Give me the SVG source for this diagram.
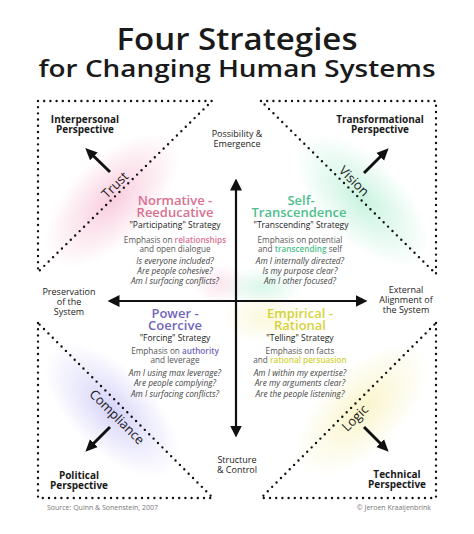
<svg xmlns="http://www.w3.org/2000/svg" width="474" height="534" viewBox="0 0 474 534">
<style>
text{font-family:"Open Sans","Liberation Sans",sans-serif;fill:#1a1a1a;text-anchor:middle}
.title{font-weight:600}
.persp{font-size:10px;font-weight:700}
.axis{font-size:9px;font-weight:500;fill:#222}
.head{font-size:13px;font-weight:600}
.strat{font-size:8.5px;font-weight:500;fill:#222}
.emph{font-size:8.2px;fill:#555}
.q{font-size:8.3px;font-style:italic;fill:#444}
.rot{font-size:13px;font-weight:500}
.foot{font-size:7px;fill:#777}
.dots{fill:none;stroke:#111;stroke-width:2.4;stroke-linecap:round;stroke-dasharray:0 6.2}
.ax{stroke:#111;stroke-width:2.2;fill:none}
.pa{stroke:#111;stroke-width:3;fill:none}
.pink{fill:#d9708f}.green{fill:#4dbf8c}.purple{fill:#7265c0}.yellow{fill:#d6d23c}
</style>
<defs>
<radialGradient id="gPink"><stop offset="0" stop-color="#f7bcd3" stop-opacity="0.75"/><stop offset="1" stop-color="#f7bcd3" stop-opacity="0"/></radialGradient>
<radialGradient id="gGreen"><stop offset="0" stop-color="#b6efd6" stop-opacity="0.75"/><stop offset="1" stop-color="#b6efd6" stop-opacity="0"/></radialGradient>
<radialGradient id="gPurple"><stop offset="0" stop-color="#c8c4f6" stop-opacity="0.75"/><stop offset="1" stop-color="#c8c4f6" stop-opacity="0"/></radialGradient>
<radialGradient id="gYellow"><stop offset="0" stop-color="#f8f2bd" stop-opacity="0.8"/><stop offset="1" stop-color="#f8f2bd" stop-opacity="0"/></radialGradient>
<marker id="ah" markerUnits="userSpaceOnUse" viewBox="0 0 12 12" markerWidth="12" markerHeight="12" refX="0.5" refY="6" orient="auto"><path d="M0,0 L12,6 L0,12 z" fill="#111"/></marker>
<marker id="ah2" markerUnits="userSpaceOnUse" viewBox="0 0 12 12" markerWidth="12" markerHeight="12" refX="0.5" refY="6" orient="auto"><path d="M0,0.5 L12,6 L0,11.5 z" fill="#111"/></marker>
</defs>
<rect width="474" height="534" fill="#fff"/>

<g id="background-glows">
<ellipse cx="112" cy="200" rx="85" ry="42" fill="url(#gPink)" transform="rotate(-45 112 200)"/>
<ellipse cx="220" cy="284" rx="28" ry="20" fill="url(#gPink)" opacity="0.5"/>
<ellipse cx="362" cy="200" rx="85" ry="42" fill="url(#gGreen)" transform="rotate(45 362 200)"/>
<ellipse cx="262" cy="287" rx="40" ry="20" fill="url(#gGreen)" opacity="0.7"/>
<ellipse cx="112" cy="410" rx="85" ry="42" fill="url(#gPurple)" transform="rotate(45 112 410)"/>
<ellipse cx="362" cy="410" rx="85" ry="42" fill="url(#gYellow)" transform="rotate(-45 362 410)"/>
<ellipse cx="265" cy="318" rx="45" ry="25" fill="url(#gYellow)" opacity="0.7"/>
</g>

<g id="title">
<text class="title" x="237" y="50" font-size="30" textLength="241" lengthAdjust="spacingAndGlyphs">Four Strategies</text>
<text class="title" x="237" y="77" font-size="24" textLength="397" lengthAdjust="spacingAndGlyphs">for Changing Human Systems</text>
</g>

<g id="triangles">
<path class="dots" d="M38,101 L212,101 L38,272 Z"/>
<path class="dots" d="M261,101 L436,101 L436,274 Z"/>
<path class="dots" d="M38,323 L38,498 L213,498 Z"/>
<path class="dots" d="M436,323 L436,498 L261,498 Z"/>
</g>

<g id="connectors">
<path class="ax" d="M236,301 L236,190" marker-end="url(#ah)"/>
<path class="ax" d="M236,301 L236,426" marker-end="url(#ah)"/>
<path class="ax" d="M236,301 L119,301" marker-end="url(#ah)"/>
<path class="ax" d="M236,301 L356,301" marker-end="url(#ah)"/>
<path class="pa" d="M110,172 L93.5,156" marker-end="url(#ah2)"/>
<path class="pa" d="M364,173 L380.5,156.5" marker-end="url(#ah2)"/>
<path class="pa" d="M110,427 L93.5,443.5" marker-end="url(#ah2)"/>
<path class="pa" d="M364,427 L380.5,443.5" marker-end="url(#ah2)"/>
</g>

<g id="interpersonal">
<text class="persp" y="123"><tspan x="85">Interpersonal</tspan><tspan x="85" dy="10">Perspective</tspan></text>
<text class="rot" transform="translate(115,185) rotate(-45)" y="4.5">Trust</text>
</g>
<g id="transformational">
<text class="persp" y="123"><tspan x="380">Transformational</tspan><tspan x="380" dy="10">Perspective</tspan></text>
<text class="rot" transform="translate(354,181) rotate(45)" y="4.5">Vision</text>
</g>
<g id="political">
<text class="persp" y="479"><tspan x="79">Political</tspan><tspan x="79" dy="10">Perspective</tspan></text>
<text class="rot" transform="translate(117,417) rotate(45)" y="4.5">Compliance</text>
</g>
<g id="technical">
<text class="persp" y="478"><tspan x="397">Technical</tspan><tspan x="397" dy="10">Perspective</tspan></text>
<text class="rot" transform="translate(355,418) rotate(-45)" y="4.5">Logic</text>
</g>

<g id="axis-labels">
<text class="axis" y="137"><tspan x="237">Possibility &amp;</tspan><tspan x="237" dy="10">Emergence</tspan></text>
<text class="axis" y="463"><tspan x="237">Structure</tspan><tspan x="237" dy="10">&amp; Control</tspan></text>
<text class="axis" y="295"><tspan x="69">Preservation</tspan><tspan x="69" dy="10">of the</tspan><tspan x="69" dy="10">System</tspan></text>
<text class="axis" y="293"><tspan x="406">External</tspan><tspan x="406" dy="10">Alignment of</tspan><tspan x="406" dy="10">the System</tspan></text>
</g>

<g id="normative">
<text class="head pink" y="205"><tspan x="175">Normative -</tspan><tspan x="175" dy="12">Reeducative</tspan></text>
<text class="strat" x="175" y="228">"Participating" Strategy</text>
<text class="emph" y="243"><tspan x="175">Emphasis on <tspan class="pink" font-weight="600">relationships</tspan></tspan><tspan x="175" dy="9">and open dialogue</tspan></text>
<text class="q" y="264"><tspan x="175">Is everyone included?</tspan><tspan x="175" dy="10">Are people cohesive?</tspan><tspan x="175" dy="10">Am I surfacing conflicts?</tspan></text>
</g>

<g id="self-transcendence">
<text class="head green" y="205"><tspan x="301">Self-</tspan><tspan x="299" dy="12">Transcendence</tspan></text>
<text class="strat" x="301" y="228">"Transcending" Strategy</text>
<text class="emph" y="243"><tspan x="300">Emphasis on potential</tspan><tspan x="300" dy="9">and <tspan class="green" font-weight="600">transcending</tspan> self</tspan></text>
<text class="q" y="264"><tspan x="300">Am I internally directed?</tspan><tspan x="300" dy="10">Is my purpose clear?</tspan><tspan x="300" dy="10">Am I other focused?</tspan></text>
</g>

<g id="power-coercive">
<text class="head purple" y="318"><tspan x="175">Power -</tspan><tspan x="175" dy="12">Coercive</tspan></text>
<text class="strat" x="175" y="341">"Forcing" Strategy</text>
<text class="emph" y="354"><tspan x="175">Emphasis on <tspan class="purple" font-weight="600">authority</tspan></tspan><tspan x="175" dy="9">and leverage</tspan></text>
<text class="q" y="376"><tspan x="175">Am I using max leverage?</tspan><tspan x="175" dy="10">Are people complying?</tspan><tspan x="175" dy="11">Am I surfacing conflicts?</tspan></text>
</g>

<g id="empirical-rational">
<text class="head yellow" y="318"><tspan x="300">Empirical -</tspan><tspan x="300" dy="12">Rational</tspan></text>
<text class="strat" x="300" y="341">"Telling" Strategy</text>
<text class="emph" y="354"><tspan x="300">Emphasis on facts</tspan><tspan x="300" dy="9">and <tspan class="yellow" font-weight="600">rational persuasion</tspan></tspan></text>
<text class="q" y="376"><tspan x="300">Am I within my expertise?</tspan><tspan x="300" dy="10">Are my arguments clear?</tspan><tspan x="300" dy="11">Are the people listening?</tspan></text>
</g>

<g id="footer">
<text class="foot" x="47" y="510" style="text-anchor:start">Source: Quinn &amp; Sonenstein, 2007</text>
<text class="foot" x="431" y="510" style="text-anchor:end">© Jeroen Kraaijenbrink</text>
</g>
</svg>
